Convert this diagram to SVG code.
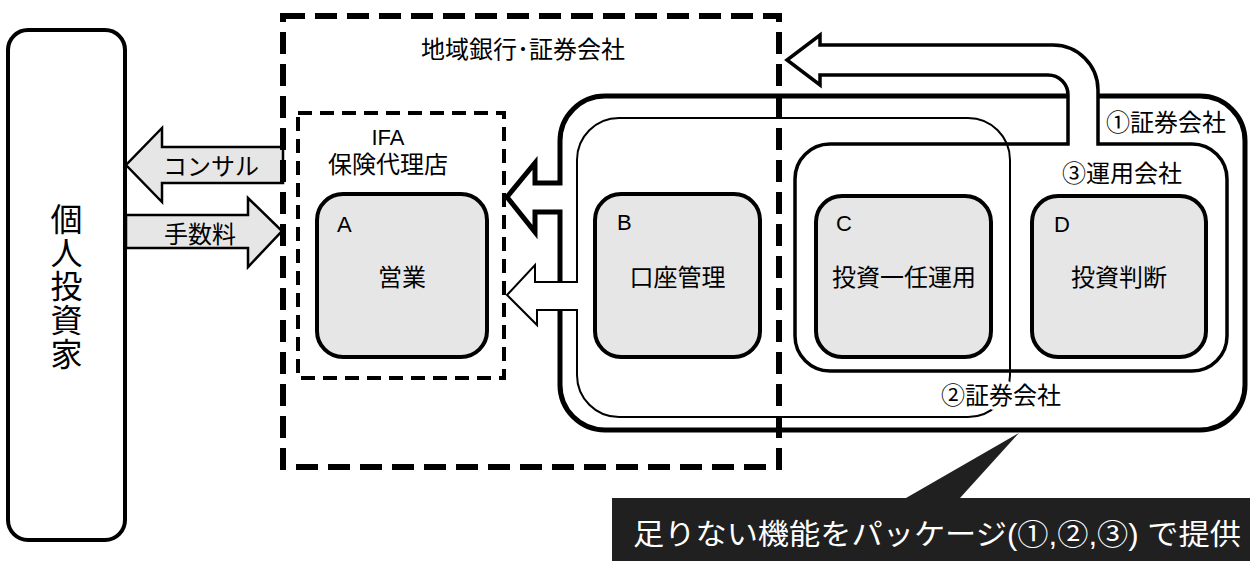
<svg xmlns="http://www.w3.org/2000/svg" width="1250" height="561" viewBox="0 0 1250 561">
<style>
text{font-family:"Liberation Sans","Noto Sans CJK JP",sans-serif;fill:#000}
.t24{font-size:24px}
.lbl{font-size:24px}
.mid{text-anchor:middle}
.vt{font-size:32px;text-anchor:middle}
.box{fill:#e6e6e6;stroke:#000;stroke-width:4}
.ln{fill:none;stroke:#000;stroke-linejoin:miter}
.arr{fill:#e6e6e6;stroke:#000;stroke-width:2.5;stroke-linejoin:miter}
.halo{stroke:#fff;stroke-width:6;paint-order:stroke;stroke-linejoin:round}
</style>
<rect width="1250" height="561" fill="#fff"/>

<g id="investor">
<rect x="8" y="30" width="117" height="510" rx="20" fill="#fff" stroke="#000" stroke-width="4"/>
<text class="vt" x="66.5" y="231">個</text>
<text class="vt" x="66.5" y="265">人</text>
<text class="vt" x="66.5" y="298">投</text>
<text class="vt" x="66.5" y="332">資</text>
<text class="vt" x="66.5" y="366">家</text>
</g>

<g id="connectors">
<polygon class="arr" points="283,147 162,147 162,128 126,165 162,202 162,183 283,183"/>
<text class="t24 mid" x="211" y="175">コンサル</text>
<polygon class="arr" points="126,215 248,215 248,198 282,231 248,267 248,248 126,248"/>
<text class="t24 mid" x="200" y="243">手数料</text>
</g>

<g id="firm1">
<path class="ln" stroke-width="5" d="M560,282 L560,212 L535,212 L535,232 L507,197 L535,163 L535,183 L560,183 L560,141 A45,45 0 0 1 605,96 L1068,96 M1098,96 L1200,96 A45,45 0 0 1 1245,141 L1245,385 A45,45 0 0 1 1200,430 L605,430 A45,45 0 0 1 560,385 L560,310"/>
<text class="lbl mid" x="1166" y="131">①証券会社</text>
</g>

<g id="firm2">
<path class="ln" stroke-width="2" d="M577,282 L535,282 L535,265 L507,295 L537,325 L537,310 L577,310 L577,375 A42,42 0 0 0 619,417 L968,417 A42,42 0 0 0 1010,375 L1010,160 A42,42 0 0 0 968,118 L619,118 A42,42 0 0 0 577,160 Z"/>
<text class="lbl mid halo" x="1001" y="404">②証券会社</text>
</g>

<g id="firm3">
<path class="ln" stroke-width="3.5" d="M1068,144 L830,144 A35,35 0 0 0 795,179 L795,336 A35,35 0 0 0 830,371 L1192,371 A35,35 0 0 0 1227,336 L1227,179 A35,35 0 0 0 1192,144 L1098,144 L1098,90 A45,45 0 0 0 1053,45 L820,45 L820,35 L787,60 L820,85 L820,75 L1048,75 A20,20 0 0 1 1068,95 Z"/>
<text class="lbl mid" x="1122" y="182">③運用会社</text>
</g>

<g id="regional">
<rect x="283" y="16" width="496" height="451" fill="none" stroke="#000" stroke-width="6" stroke-dasharray="22 10"/>
<text class="t24" x="421" y="58">地域銀行･証券会社</text>
</g>

<g id="ifa">
<rect x="298" y="113" width="206" height="265" fill="none" stroke="#000" stroke-width="4" stroke-dasharray="14 8"/>
<text class="mid" x="388" y="145" font-size="22">IFA</text>
<text class="t24 mid" x="388" y="173">保険代理店</text>
</g>

<g id="nodeA">
<rect class="box" x="317" y="194" width="170" height="163" rx="26"/>
<text x="337" y="232" font-size="22">A</text>
<text class="t24 mid" x="402" y="286">営業</text>
</g>
<g id="nodeB">
<rect class="box" x="595" y="194" width="165" height="163" rx="26"/>
<text x="617" y="230" font-size="22">B</text>
<text class="t24 mid" x="677.5" y="286">口座管理</text>
</g>
<g id="nodeC">
<rect class="box" x="816" y="196" width="175" height="161" rx="26"/>
<text x="836" y="231" font-size="22">C</text>
<text class="t24 mid" x="904" y="286">投資一任運用</text>
</g>
<g id="nodeD">
<rect class="box" x="1032" y="196" width="174" height="161" rx="26"/>
<text x="1054" y="232" font-size="22">D</text>
<text class="t24 mid" x="1119" y="286">投資判断</text>
</g>

<g id="callout">
<path d="M612,498 L906,498 L1019,433 L960,498 L1252,498 L1252,563 L612,563 Z" fill="#202020"/>
<text x="633" y="545" font-size="29" textLength="608" lengthAdjust="spacingAndGlyphs" style="fill:#fff">足りない機能をパッケージ(①,②,③) で提供</text>
</g>
</svg>
